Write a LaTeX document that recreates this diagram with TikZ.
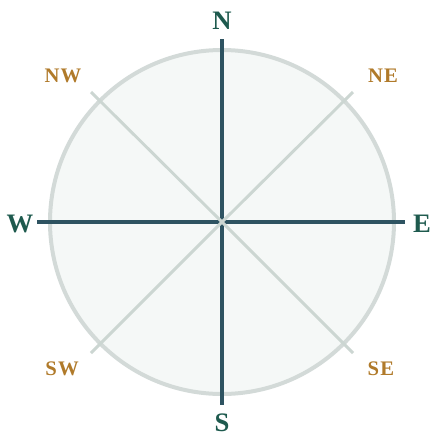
\documentclass[tikz,border=0pt]{standalone}
\usepackage{fontspec}
\setmainfont{Liberation Serif}
\usetikzlibrary{positioning}
\definecolor{ringfill}{HTML}{F5F8F7}
\definecolor{ringline}{HTML}{D3DAD8}
\definecolor{axisline}{HTML}{2E5361}
\definecolor{diagline}{HTML}{CCD6D2}
\definecolor{maintext}{HTML}{1E5A4E}
\definecolor{subtext}{HTML}{B07A2A}

\begin{document}
\begin{tikzpicture}[x=0.75pt, y=-0.75pt,
  cardinal/.style={text=maintext, inner sep=0pt, font=\fontsize{20}{20}\selectfont\bfseries},
  ordinal/.style={text=subtext, inner sep=0pt, font=\fontsize{15.5}{15.5}\selectfont\bfseries\addfontfeatures{LetterSpace=6}},
  axis/.style={draw=axisline, line width=3pt},
  diag/.style={draw=diagline, line width=2.2pt}]
\useasboundingbox (0,0) rectangle (431,437);
% ring
\draw[fill=ringfill, draw=ringline, line width=3pt] (222,222) circle (172);
\coordinate (c) at (222,222);
\coordinate (n) at (222,39);
\coordinate (s) at (222,405);
\coordinate (w) at (37,222);
\coordinate (e) at (405,222);
\coordinate (ne) at (353,92);
\coordinate (nw) at (91,92);
\coordinate (se) at (353,353);
\coordinate (sw) at (91,353);
% main axes
\draw[axis] (c) -- (n);
\draw[axis] (c) -- (s);
\draw[axis] (c) -- (w);
\draw[axis] (c) -- (e);
% diagonals
\draw[diag] (c) -- (ne);
\draw[diag] (c) -- (nw);
\draw[diag] (c) -- (se);
\draw[diag] (c) -- (sw);
% labels
\node[cardinal] (lblN) at (222,21) {N};
\node[cardinal] (lblS) at (222,423) {S};
\node[cardinal] (lblW) at (20,224) {W};
\node[cardinal] (lblE) at (422,224) {E};
\node[ordinal] (lblNW) at (63,76) {NW};
\node[ordinal] (lblNE) at (383,76) {NE};
\node[ordinal] (lblSW) at (62,369) {SW};
\node[ordinal] (lblSE) at (381,369) {SE};
\end{tikzpicture}
\end{document}
